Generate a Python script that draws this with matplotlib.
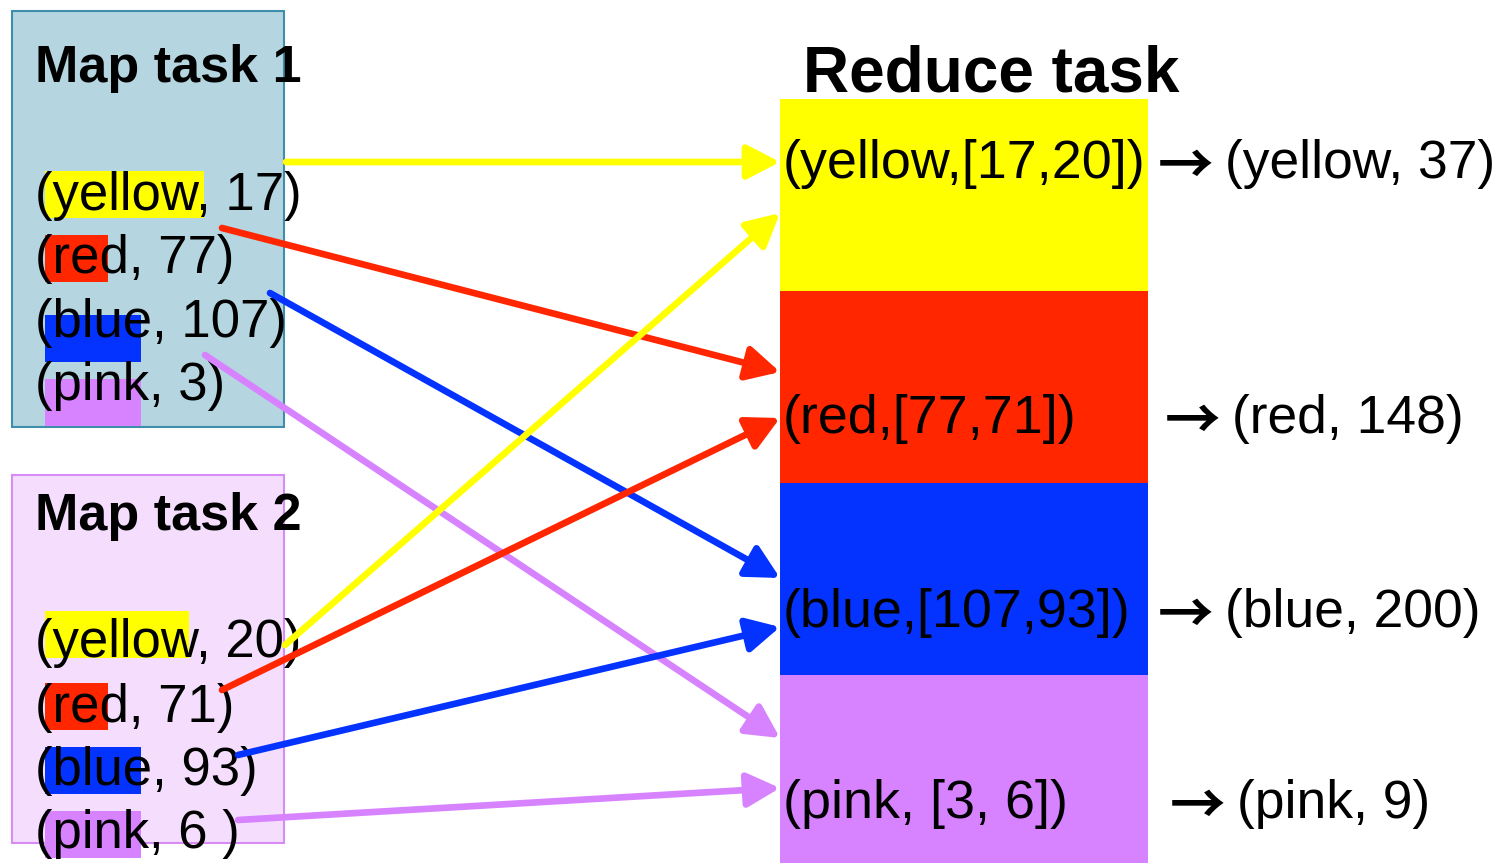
import matplotlib.pyplot as plt
from matplotlib.patches import Rectangle

plt.rcParams['font.family'] = ['Liberation Sans', 'DejaVu Sans']

# data
keys = ['yellow', 'red', 'blue', 'pink']
map1_vals = ['17', '77', '107', '3']
map2_vals = ['20', '71', '93', '6 ']
reduce_lists = ['[17,20]', '[77,71]', '[107,93]', ' [3, 6]']
reduce_sums = ['37', '148', '200', '9']
key_colors = {'yellow': '#ffff00', 'red': '#ff2600', 'blue': '#0433ff', 'pink': '#d783ff'}

# layout (pixel coordinates, y downward)
W, H = 1499, 863
map_boxes = [(12, 11, 272, 416, '#b5d5e0', '#3f8fac'),
             (12, 475, 272, 368, '#f5ddfd', '#d68bf5')]
map_titles = ['Map task 1', 'Map task 2']
title_base = [82, 530]
row_base = [[210, 273, 337, 400], [657, 722, 785, 848]]
hl_top = [[171, 235, 315, 379], [611, 683, 747, 811]]
hl_w = [[159, 63, 96, 96], [144, 63, 96, 96]]
arrow_start = [[(286, 162), (222, 228), (270, 293), (205, 355)],
               [(285, 645), (222, 690), (238, 755), (238, 820)]]
arrow_end = [[(780, 162), (780, 372), (780, 578), (780, 738)],
             [(780, 213), (780, 418), (780, 627), (780, 788)]]
red_x0, red_x1 = 780, 1148
red_edges = [99, 291, 483, 675, 863]
red_base = [178, 433, 627, 818]
sum_arrow_x = [1158, 1165, 1158, 1170]
sum_x = [1225, 1232, 1225, 1237]

fig = plt.figure(figsize=(W / 100, H / 100), dpi=100)
ax = fig.add_axes([0, 0, 1, 1])
ax.set_xlim(0, W)
ax.set_ylim(H, 0)
ax.axis('off')

fs = 38

for m, vals in enumerate([map1_vals, map2_vals]):
    x, y, w, h, fc, ec = map_boxes[m]
    ax.add_patch(Rectangle((x, y), w, h, facecolor=fc, edgecolor=ec, lw=1.5, zorder=1))
    ax.text(35, title_base[m], map_titles[m], fontsize=37.5, fontweight='bold',
            va='baseline', ha='left', zorder=3)
    for i, k in enumerate(keys):
        ax.add_patch(Rectangle((45, hl_top[m][i]), hl_w[m][i], 47,
                               facecolor=key_colors[k], lw=0, zorder=2))
        ax.text(35, row_base[m][i], f'({k}, {vals[i]})', fontsize=fs,
                va='baseline', ha='left', zorder=3)

# reduce task
ax.text(803, 92, 'Reduce task', fontsize=46, fontweight='bold', va='baseline', ha='left')
for i, k in enumerate(keys):
    ax.add_patch(Rectangle((red_x0, red_edges[i]), red_x1 - red_x0,
                           red_edges[i + 1] - red_edges[i],
                           facecolor=key_colors[k], lw=0, zorder=1))
    ax.text(783, red_base[i], f'({k},{reduce_lists[i]})', fontsize=38.8,
            va='baseline', ha='left', zorder=3)
    ax.text(sum_arrow_x[i], red_base[i] - 10, '\u2192', fontsize=40,
            family=['Noto Sans CJK JP', 'DejaVu Sans'], fontweight='bold',
            va='center', ha='left', zorder=3)
    ax.text(sum_x[i], red_base[i], f'({k}, {reduce_sums[i]})', fontsize=38.4,
            va='baseline', ha='left', zorder=3)

# shuffle arrows
for m in range(2):
    for i, k in enumerate(keys):
        ax.annotate('', xy=arrow_end[m][i], xytext=arrow_start[m][i],
                    arrowprops=dict(arrowstyle='-|>,head_length=1.0,head_width=0.52',
                                    color=key_colors[k], lw=4.8, mutation_scale=20,
                                    shrinkA=0, shrinkB=0),
                    zorder=4)

fig.savefig('out.png', dpi=100)
